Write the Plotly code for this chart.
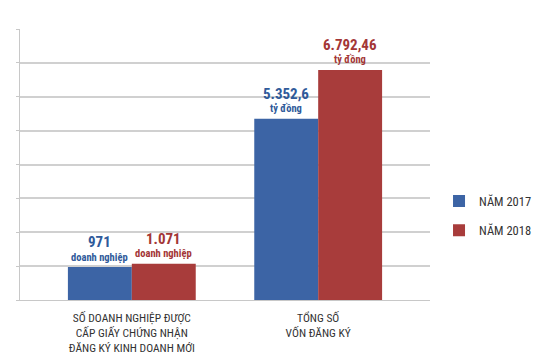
import plotly.graph_objects as go

categories = ["SỐ DOANH NGHIỆP ĐƯỢC<br>CẤP GIẤY CHỨNG NHẬN<br>ĐĂNG KÝ KINH DOANH MỚI",
              "TỔNG SỐ<br>VỐN ĐĂNG KÝ"]
series_names = ["NĂM 2017", "NĂM 2018"]
values_2017 = [971, 5352.6]
values_2018 = [1071, 6792.46]
labels_2017 = ["971", "5.352,6"]
labels_2018 = ["1.071", "6.792,46"]
units = ["doanh nghiệp", "tỷ đồng"]

BLUE = "#3C64A5"
RED = "#A83C3B"
BLUE_T = "#2F5A9A"
RED_T = "#A33636"
FONT = "Roboto Condensed, Liberation Sans Narrow, Roboto, sans-serif"

fig = go.Figure()
fig.add_trace(go.Bar(name=series_names[0], x=[0, 1], y=values_2017,
                     marker=dict(color=BLUE, line=dict(width=0)), legendgroup="a"))
fig.add_trace(go.Bar(name=series_names[1], x=[0, 1], y=values_2018,
                     marker=dict(color=RED, line=dict(width=0)), legendgroup="b"))

bargap = 0.314
half = (1 - bargap) / 4
anns = []
for i in range(2):
    for off, v, lab, col in [(-half, values_2017[i], labels_2017[i], BLUE_T),
                             (half, values_2018[i], labels_2018[i], RED_T)]:
        anns.append(dict(x=i + off, y=v, xref="x", yref="y", yanchor="middle",
                         showarrow=False, yshift=25, text=f"<b>{lab}</b>",
                         font=dict(family=FONT, size=15, color=col)))
        anns.append(dict(x=i + off, y=v, xref="x", yref="y", yanchor="middle",
                         showarrow=False, yshift=10, text=f"<b>{units[i]}</b>",
                         font=dict(family=FONT, size=10.5, color=col)))

fig.update_layout(
    width=532, height=352,
    margin=dict(l=12, r=110, t=21, b=59.5, autoexpand=False),
    paper_bgcolor="white", plot_bgcolor="white",
    barmode="group", bargap=bargap, bargroupgap=0,
    font=dict(family=FONT, color="#333333"),
    xaxis=dict(range=[-0.6, 1.6], tickmode="array", tickvals=[0, 1], ticktext=categories,
               tickfont=dict(family=FONT, size=11.5, color="#333333"),
               showline=True, linecolor="#c8c8c8", linewidth=1, showgrid=False,
               ticks="", ticklabelstandoff=7, zeroline=False, automargin=False),
    yaxis=dict(range=[0, 8000], dtick=1000, showticklabels=False, showgrid=True,
               gridcolor="#d0d0d0", gridwidth=1.5, showline=True, linecolor="#c8c8c8",
               linewidth=1, ticks="outside", ticklen=3, tickcolor="#c8c8c8", zeroline=False,
               automargin=False),
    legend=dict(x=1.022, y=0.31, xanchor="left", yanchor="middle",
                font=dict(family=FONT, size=12.5, color="#333333"),
                traceorder="grouped", tracegroupgap=10, bgcolor="rgba(0,0,0,0)"),
    annotations=anns,
    showlegend=True,
)

fig.write_html("out.html")
